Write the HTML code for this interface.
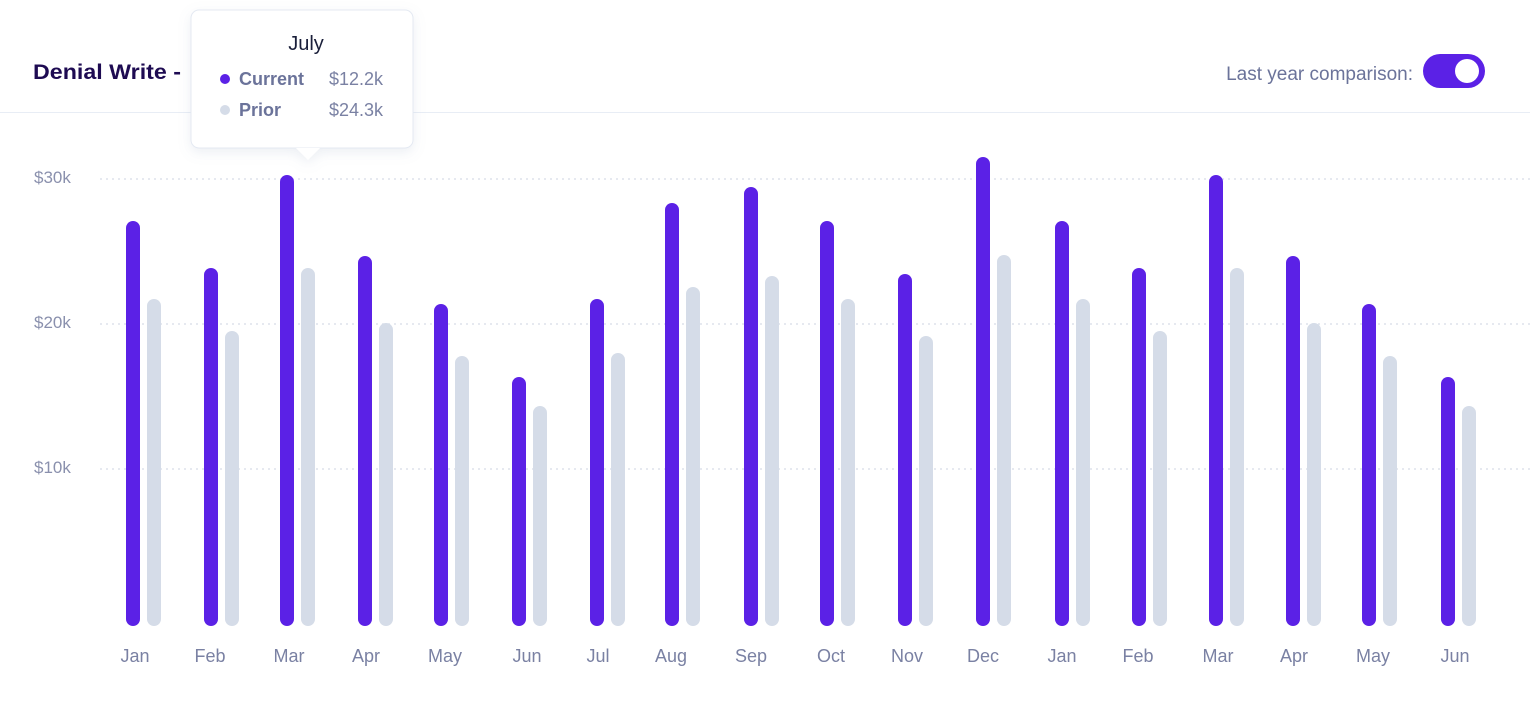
<!DOCTYPE html>
<html><head><meta charset="utf-8"><style>
body{margin:0;background:#fff;width:1530px;height:712px;overflow:hidden;font-family:"Liberation Sans",sans-serif;}
</style></head><body>
<svg width="1530" height="712" xmlns="http://www.w3.org/2000/svg" style="position:absolute;left:0;top:0">
<defs><filter id="sh" x="-20%" y="-20%" width="140%" height="150%"><feDropShadow dx="0" dy="4" stdDeviation="6" flood-color="#8090b0" flood-opacity="0.15"/></filter></defs>
<line x1="0" y1="112.5" x2="1530" y2="112.5" stroke="#e8edf5" stroke-width="1"/>
<text x="33" y="79" font-size="21" font-weight="bold" fill="#1e0b52" textLength="148" lengthAdjust="spacingAndGlyphs">Denial Write -</text>
<text x="1413" y="80" font-size="19" fill="#6b739a" text-anchor="end">Last year comparison:</text>
<rect x="1423" y="54" width="62" height="34" rx="17" fill="#5b21e6"/>
<circle cx="1467" cy="71" r="12" fill="#fff"/>
<g stroke="#dde2ec" stroke-width="1.5" stroke-dasharray="2,4">
<line x1="100" y1="179" x2="1530" y2="179"/><line x1="100" y1="324" x2="1530" y2="324"/><line x1="100" y1="469" x2="1530" y2="469"/>
</g>
<g font-size="17" fill="#8a90ad">
<text x="34" y="183">$30k</text><text x="34" y="328">$20k</text><text x="34" y="473">$10k</text>
</g>
<g id="bars"></g>
<g id="labels" font-size="18" fill="#7a81a3" text-anchor="middle"></g>
<g filter="url(#sh)">
<rect x="191" y="10" width="222" height="138" rx="8" fill="#fff" stroke="#e4e9f2"/>
<path d="M296 148 L308 160 L320 148 Z" fill="#fff"/>
</g>
<text x="306" y="50" font-size="20" fill="#1a1f3a" text-anchor="middle">July</text>
<circle cx="225" cy="79" r="5" fill="#5b21e6"/>
<circle cx="225" cy="110" r="5" fill="#d5dce8"/>
<text x="239" y="85" font-size="18" font-weight="bold" fill="#6b739a">Current</text>
<text x="239" y="116" font-size="18" font-weight="bold" fill="#6b739a">Prior</text>
<text x="329" y="85" font-size="18" fill="#7a81a3">$12.2k</text>
<text x="329" y="116" font-size="18" fill="#7a81a3">$24.3k</text>
</svg>
<script>
var cc=[133,211,287,365,441,519,597,672,751,827,905,983,1062,1139,1216,1293,1369,1448];
var ct=[221,268,175,256,304,377,299,203,187,221,274,157,221,268,175,256,304,377];
var pt=[299,331,268,323,356,406,353,287,276,299,336,255,299,331,268,323,356,406];
var lx=[135,210,289,366,445,527,598,671,751,831,907,983,1062,1138,1218,1294,1373,1455];
var m=["Jan","Feb","Mar","Apr","May","Jun","Jul","Aug","Sep","Oct","Nov","Dec","Jan","Feb","Mar","Apr","May","Jun"];
var b="",l="";
for(var i=0;i<18;i++){
b+='<rect x="'+(cc[i]-7)+'" y="'+ct[i]+'" width="14" height="'+(626-ct[i])+'" rx="7" fill="#5b21e6"/>';
b+='<rect x="'+(cc[i]+14)+'" y="'+pt[i]+'" width="14" height="'+(626-pt[i])+'" rx="7" fill="#d5dce8"/>';
l+='<text x="'+lx[i]+'" y="662">'+m[i]+'</text>';
}
document.getElementById("bars").innerHTML=b;
document.getElementById("labels").innerHTML=l;
</script>
</body></html>
